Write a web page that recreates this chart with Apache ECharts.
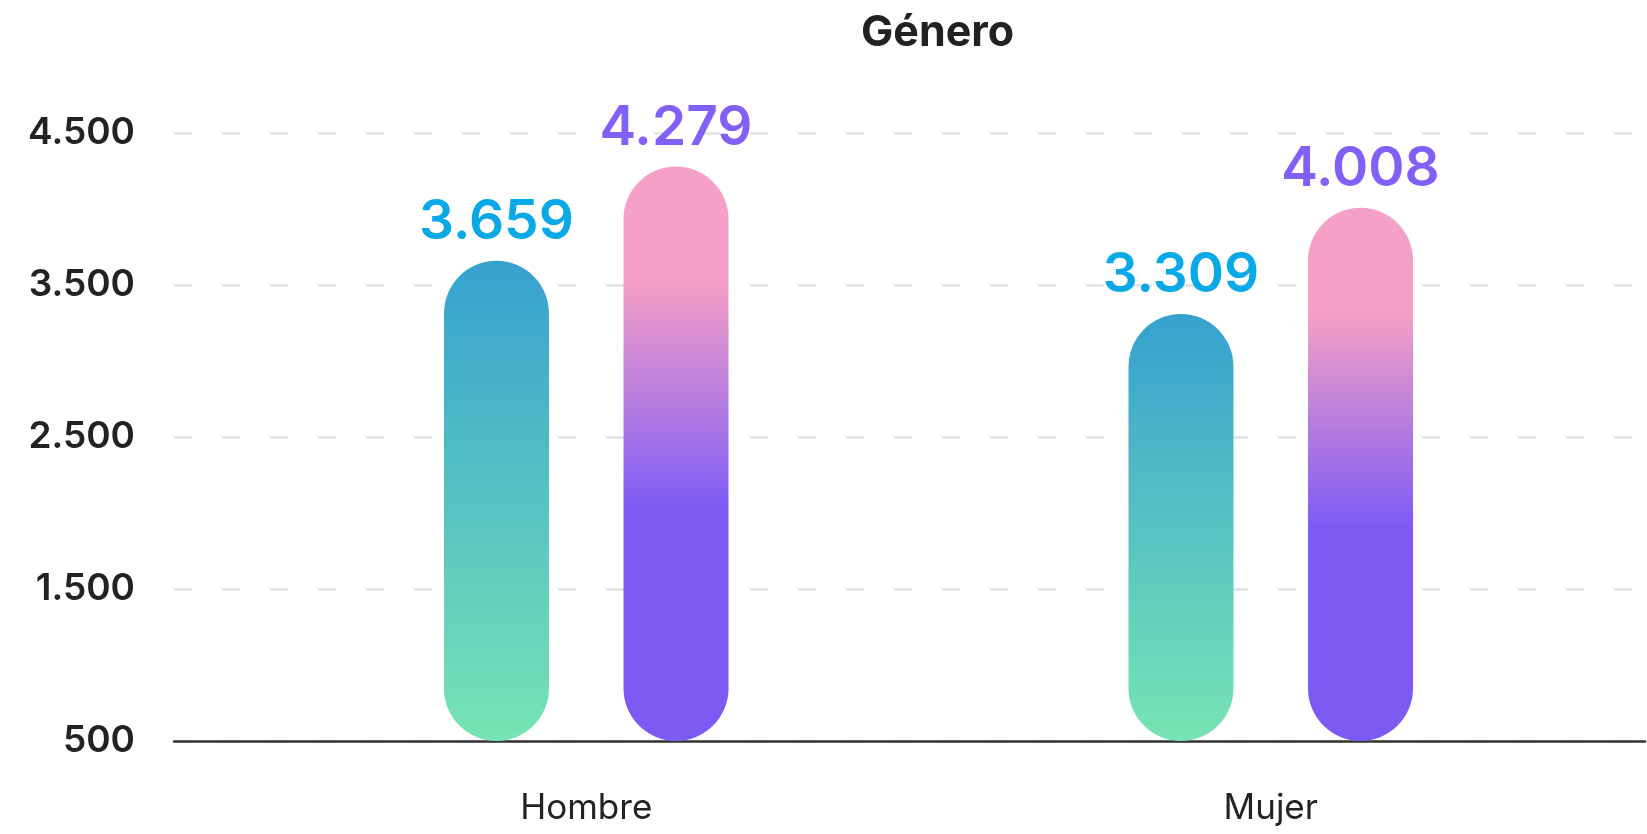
<!DOCTYPE html>
<html>
<head>
<meta charset="utf-8">
<script src="https://cdn.jsdelivr.net/npm/echarts@6/dist/echarts.min.js"></script>
<style>
html,body{margin:0;padding:0;background:#fff;}
#chart{width:1647px;height:834px;}
</style>
</head>
<body>
<div id="chart"></div>
<script>
const titleText = 'Género';
const categories = ['Hombre', 'Mujer'];
const seriesA = [3659, 3309];
const seriesB = [4279, 4008];
const yMin = 500, yMax = 4500, yInterval = 1000;

function fmt(v) {
  return String(Math.round(v)).replace(/\B(?=(\d{3})+(?!\d))/g, '.');
}

const FONT = 'Inter, "Noto Sans", sans-serif';
const gridTop = 133, gridBottom = 93;

const chart = echarts.init(document.getElementById('chart'));
chart.setOption({
  backgroundColor: '#ffffff',
  animation: false,
  title: {
    text: titleText,
    left: 856,
    top: 7,
    textStyle: { fontFamily: FONT, fontSize: 43, fontWeight: 700, color: '#222222' }
  },
  grid: [
    { left: 174, right: 2, top: gridTop, bottom: gridBottom },
    { left: 244, right: 34, top: gridTop, bottom: gridBottom }
  ],
  xAxis: [
    {
      gridIndex: 0, type: 'value', min: 0, max: 1,
      axisLine: { show: true, onZero: false, lineStyle: { color: '#333333', width: 2.5 } },
      axisTick: { show: false }, axisLabel: { show: false }, splitLine: { show: false }
    },
    {
      gridIndex: 1, type: 'category', data: categories,
      axisLine: { show: false }, axisTick: { show: false },
      axisLabel: { margin: 50, fontFamily: FONT, fontSize: 35, color: '#222222' }
    }
  ],
  yAxis: [
    {
      gridIndex: 0, type: 'value', min: yMin, max: yMax, interval: yInterval,
      axisLine: { show: false }, axisTick: { show: false },
      axisLabel: { margin: 39, fontFamily: FONT, fontSize: 37, fontWeight: 600, color: '#222222', formatter: fmt },
      splitLine: { show: true, lineStyle: { color: '#e6e6e6', width: 3, type: [18, 30] } }
    },
    {
      gridIndex: 1, type: 'value', min: yMin, max: yMax, interval: yInterval,
      show: false, splitLine: { show: false }
    }
  ],
  series: [
    {
      type: 'bar', xAxisIndex: 1, yAxisIndex: 1, data: seriesA,
      barWidth: 105, barGap: '71%', z: 3,
      itemStyle: {
        borderRadius: 52.5,
        color: new echarts.graphic.LinearGradient(0, 0, 0, 1, [
          { offset: 0, color: '#36a1cf' },
          { offset: 1, color: '#77e4b4' }
        ])
      },
      label: {
        show: true, position: 'top', distance: 11,
        fontFamily: FONT, fontSize: 55, fontWeight: 600, color: '#09a9e7',
        formatter: p => fmt(p.value)
      }
    },
    {
      type: 'bar', xAxisIndex: 1, yAxisIndex: 1, data: seriesB,
      barWidth: 105, barGap: '71%', z: 3,
      itemStyle: {
        borderRadius: 52.5,
        color: new echarts.graphic.LinearGradient(0, 0, 0, 1, [
          { offset: 0, color: '#f5a0c6' },
          { offset: 0.2, color: '#f49fc6' },
          { offset: 0.6, color: '#7c5bf5' },
          { offset: 1, color: '#7c5bf5' }
        ])
      },
      label: {
        show: true, position: 'top', distance: 11,
        fontFamily: FONT, fontSize: 55, fontWeight: 600, color: '#8160f7',
        formatter: p => fmt(p.value)
      }
    }
  ]
});
</script>
</body>
</html>
